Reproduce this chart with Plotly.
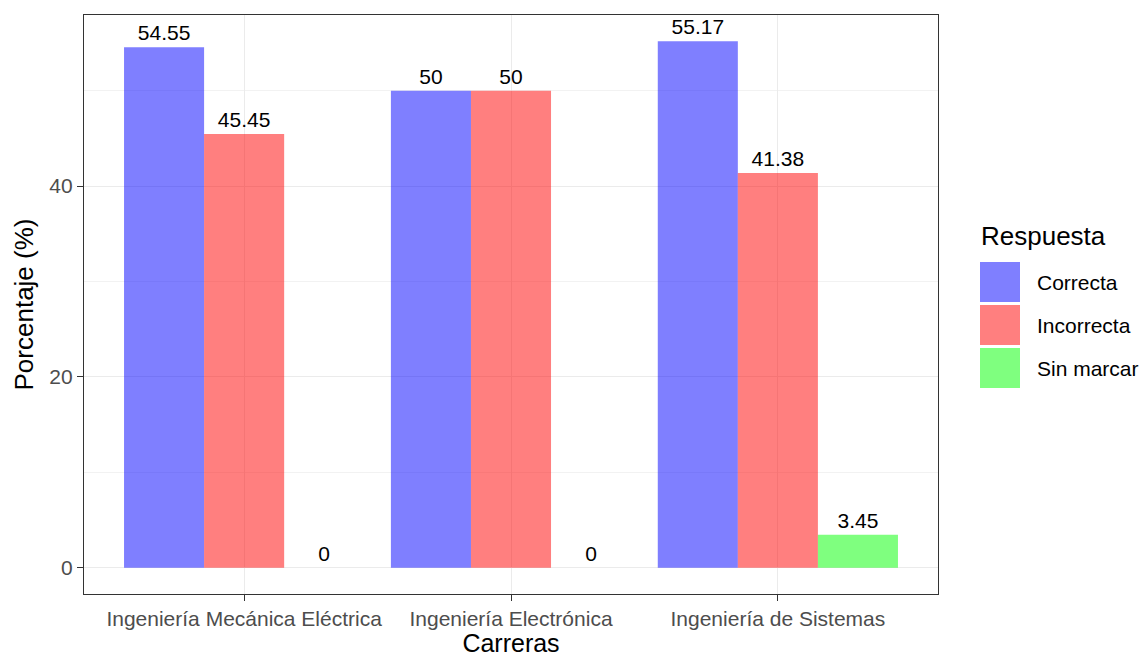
import plotly.graph_objects as go

carreras = ["Ingeniería Mecánica Eléctrica", "Ingeniería Electrónica", "Ingeniería de Sistemas"]
respuestas = ["Correcta", "Incorrecta", "Sin marcar"]
correcta = [54.55, 50, 55.17]
incorrecta = [45.45, 50, 41.38]
sin_marcar = [0, 0, 3.45]
colores = ["rgba(0,0,255,0.5)", "rgba(255,0,0,0.5)", "rgba(0,255,0,0.5)"]

FONT = "Liberation Sans, Arial, sans-serif"
fig = go.Figure()
for name, vals, col in zip(respuestas, [correcta, incorrecta, sin_marcar], colores):
    fig.add_trace(go.Bar(
        x=carreras, y=vals, name=name, marker=dict(color=col, line=dict(width=0)),
        text=[f"{v:g}" for v in vals], textposition="outside", cliponaxis=False,
        textfont=dict(family=FONT, size=21, color="black"), showlegend=False,
    ))

# panel spans x 84-938, y 15-594 of the 1143x657 page
fig.update_layout(
    width=1143, height=657, barmode="group", bargap=0.1, bargroupgap=0,
    plot_bgcolor="white", paper_bgcolor="white",
    margin=dict(l=84, r=205, t=15, b=63, autoexpand=False),
    font=dict(family=FONT),
)
fig.update_xaxes(
    range=[-0.6, 2.6], showline=True, mirror=True, linecolor="#333333", linewidth=1.2,
    showgrid=True, gridcolor="#EBEBEB", gridwidth=1,
    ticks="outside", ticklen=6, tickcolor="#333333", tickwidth=1.2,
    tickfont=dict(family=FONT, size=21, color="#4D4D4D"),
    title=dict(text="Carreras", font=dict(family=FONT, size=25, color="black"), standoff=4),
)
fig.update_yaxes(
    range=[-2.76, 57.93], tickvals=[0, 20, 40], showline=True, mirror=True,
    linecolor="#333333", linewidth=1.2, zeroline=False,
    showgrid=True, gridcolor="#EBEBEB", gridwidth=1,
    minor=dict(tickvals=[10, 30, 50], showgrid=True, gridcolor="#F2F2F2", gridwidth=0.6),
    ticks="outside", ticklen=6, tickcolor="#333333", tickwidth=1.2,
    tickfont=dict(family=FONT, size=21, color="#4D4D4D"),
    title=dict(text="Porcentaje (%)", font=dict(family=FONT, size=26, color="black"), standoff=8),
)

# custom legend (ggplot-style large keys), positions given in page px
plot_w = 854
plot_h = 579
def px_x(x):
    return (x - 84) / plot_w
def px_y(y):
    return (594 - y) / plot_h

shapes = []
annots = [dict(x=px_x(979), y=px_y(236), xref="paper", yref="paper", text="Respuesta",
               showarrow=False, xanchor="left", yanchor="middle",
               font=dict(family=FONT, size=26, color="black"))]
key_tops = [262, 305, 348]
for name, col, top in zip(respuestas, colores, key_tops):
    shapes.append(dict(type="rect", xref="paper", yref="paper",
                       x0=px_x(980), x1=px_x(1020), y0=px_y(top + 40), y1=px_y(top),
                       fillcolor=col, line=dict(width=0)))
    annots.append(dict(x=px_x(1035), y=px_y(top + 20), xref="paper", yref="paper",
                       text=name, showarrow=False, xanchor="left", yanchor="middle",
                       font=dict(family=FONT, size=21, color="black")))
fig.update_layout(shapes=shapes, annotations=annots)

fig.write_html(
    "out.html",
    config={"displayModeBar": False},
    post_script="document.body.style.margin='0';document.body.style.overflow='hidden';",
)
